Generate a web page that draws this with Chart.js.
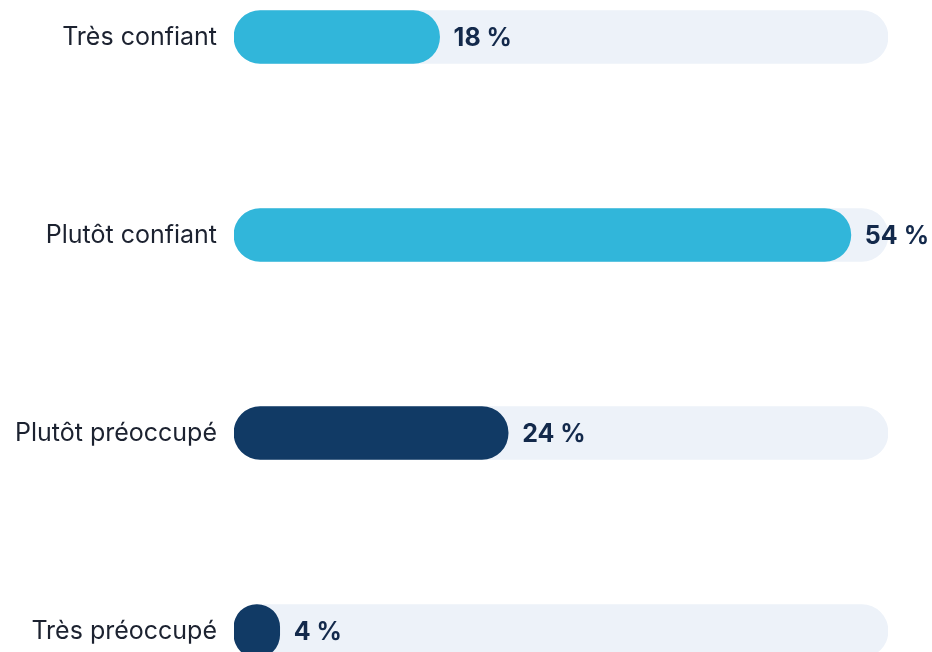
<!DOCTYPE html>
<html>
<head>
<meta charset="utf-8">
<script src="https://cdn.jsdelivr.net/npm/chart.js@4"></script>
<style>
  html, body { margin: 0; padding: 0; background: #ffffff; overflow: hidden; }
  body { width: 932px; height: 652px; position: relative; }
  #wrap { position: absolute; left: 0; top: -62px; width: 932px; height: 792px; }
</style>
</head>
<body>
<div id="wrap"><canvas id="myChart"></canvas></div>
<script>
const categories = ['Très confiant', 'Plutôt confiant', 'Plutôt préoccupé', 'Très préoccupé'];
const shares = [18, 54, 24, 4];
const trackMax = 57.25;

const barColors = ['#31b6da', '#31b6da', '#113a65', '#113a65'];

// value labels next to the bar ends
const valueLabels = {
  id: 'valueLabels',
  afterDatasetsDraw(chart) {
    const ctx = chart.ctx;
    const meta = chart.getDatasetMeta(0);
    ctx.save();
    ctx.font = 'bold 25px Inter';
    ctx.fillStyle = '#13294b';
    ctx.textAlign = 'left';
    ctx.textBaseline = 'middle';
    meta.data.forEach((bar, i) => {
      ctx.fillText(shares[i] + ' %', bar.x + 14, bar.y + 1);
    });
    ctx.restore();
  }
};

const myChartObject = document.getElementById('myChart');

let chart = new Chart(myChartObject, {
  type: 'bar',
  data: {
    labels: categories,
    datasets: [{
      data: shares,
      backgroundColor: barColors,
      borderRadius: 30,
      borderSkipped: false,
      barThickness: 53,
      grouped: false
    }, {
      data: categories.map(() => trackMax),
      backgroundColor: '#edf2f9',
      borderRadius: 30,
      borderSkipped: false,
      barThickness: 53,
      grouped: false
    }]
  },
  options: {
    indexAxis: 'y',
    responsive: true,
    maintainAspectRatio: false,
    animation: false,
    layout: { padding: { left: 0, right: 44, top: 0, bottom: 0 } },
    plugins: {
      legend: { display: false },
      tooltip: { enabled: false }
    },
    scales: {
      x: {
        display: false,
        min: 0,
        max: trackMax
      },
      y: {
        grid: { display: false, drawTicks: false },
        border: { display: false },
        ticks: {
          padding: 17,
          color: '#1c2230',
          font: { family: 'Inter', size: 25 }
        },
        afterFit(scale) {
          scale.width = 234;
          scale.paddingTop = 0;
          scale.paddingBottom = 0;
        }
      }
    }
  },
  plugins: [valueLabels]
});
</script>
</body>
</html>
